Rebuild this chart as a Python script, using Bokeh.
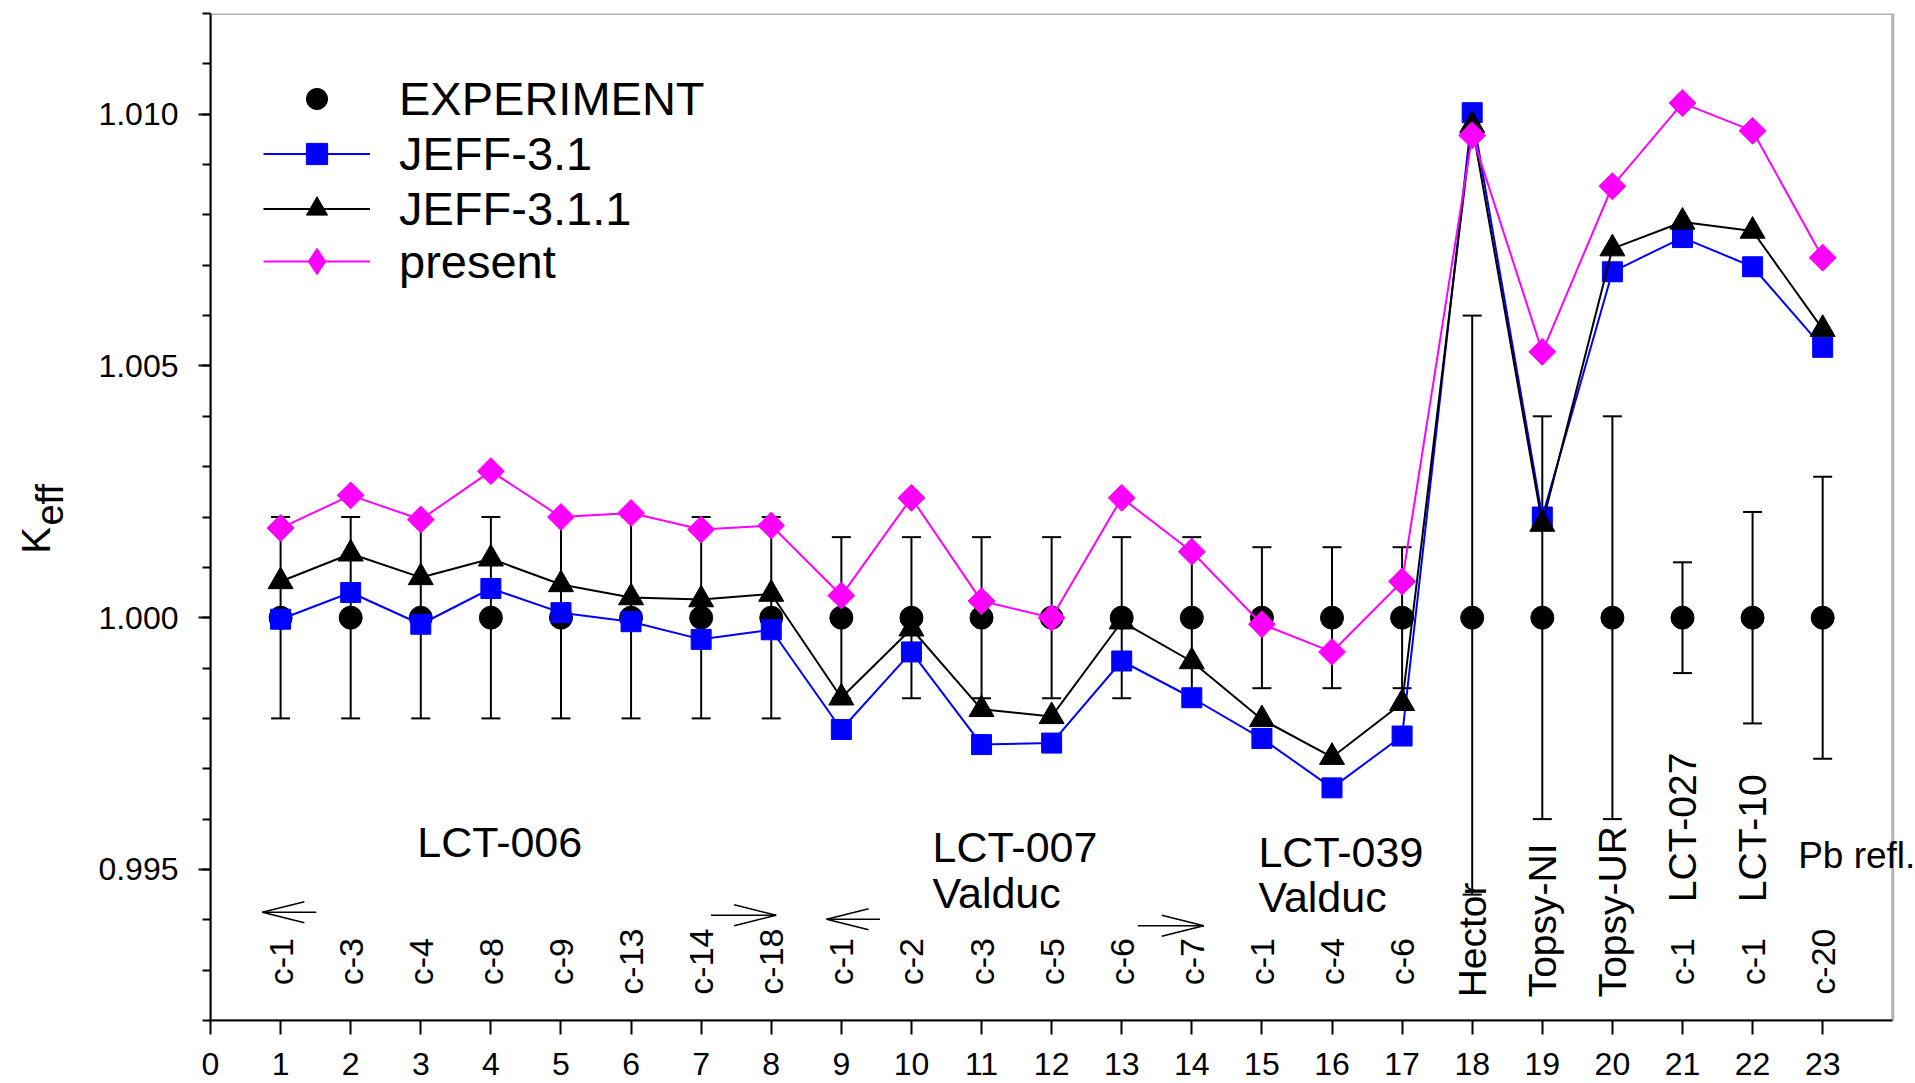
import numpy as np
from bokeh.plotting import figure
from bokeh.layouts import row
from bokeh.models import (ColumnDataSource, Whisker, TeeHead, Label, Arrow, Legend,
                          LegendItem, FixedTicker, NumeralTickFormatter, Range1d, BoxAnnotation)
from bokeh.embed import file_html
from bokeh.resources import INLINE
from bokeh.core.properties import value

# ---------------- data ----------------
cases = [1, 2, 3, 4, 5, 6, 7, 8, 9, 10, 11, 12, 13, 14, 15, 16, 17, 18, 19, 20, 21, 22, 23]
experiment = [1.0] * 23
err_up = [0.002, 0.002, 0.002, 0.002, 0.002, 0.002, 0.002, 0.002,
          0.0016, 0.0016, 0.0016, 0.0016, 0.0016, 0.0016,
          0.0014, 0.0014, 0.0014,
          0.006, 0.004, 0.004, 0.0011, 0.0021, 0.0028]
err_low = [0.002, 0.002, 0.002, 0.002, 0.002, 0.002, 0.002, 0.002,
           0.0016, 0.0016, 0.0016, 0.0016, 0.0016, 0.0016,
           0.0014, 0.0014, 0.0014,
           0.0055, 0.004, 0.004, 0.0011, 0.0021, 0.0028]
jeff31 = [0.99997, 1.00050, 0.99987, 1.00058, 1.00010, 0.99992, 0.99957, 0.99976,
          0.99778, 0.99932, 0.99748, 0.99751, 0.99914, 0.99841,
          0.99760, 0.99662, 0.99765,
          1.01003, 1.00200, 1.00687, 1.00755, 1.00697, 1.00537]
jeff311 = [1.00072, 1.00127, 1.00080, 1.00117, 1.00066, 1.00040, 1.00036, 1.00047,
           0.99841, 0.99978, 0.99818, 0.99804, 0.99992, 0.99913,
           0.99798, 0.99723, 0.99830,
           1.00978, 1.00186, 1.00733, 1.00786, 1.00768, 1.00573]
present = [1.00178, 1.00243, 1.00195, 1.00291, 1.00200, 1.00208, 1.00175, 1.00183,
           1.00044, 1.00238, 1.00033, 1.00000, 1.00238, 1.00131,
           0.99987, 0.99932, 1.00072,
           1.00958, 1.00528, 1.00857, 1.01022, 1.00967, 1.00715]

case_labels = ["c-1", "c-3", "c-4", "c-8", "c-9", "c-13", "c-14", "c-18",
               "c-1", "c-2", "c-3", "c-5", "c-6", "c-7",
               "c-1", "c-4", "c-6", "", "", "", "c-1", "c-1", "c-20"]
bench_x = [18, 19, 20]
bench_labels = ["Hector", "Topsy-NI", "Topsy-UR"]
lct_x = [21, 22]
lct_labels = ["LCT-027", "LCT-10"]
x_ticks = [0, 1, 2, 3, 4, 5, 6, 7, 8, 9, 10, 11, 12, 13, 14, 15, 16, 17, 18, 19, 20, 21, 22, 23]
y_major = [0.995, 1.000, 1.005, 1.010]

FONT = "Liberation Sans"
BLUE = "#0000FF"
MAGENTA = "#FF00FF"
Y0, Y1 = 0.992, 1.012
yr = Range1d(Y0, Y1)

# ---------------- left strip holding the y-axis title ----------------
LW = 90
lf = figure(width=LW, height=1083, x_range=Range1d(0, LW), y_range=yr,
            x_axis_location=None, y_axis_location=None, output_backend="svg",
            toolbar_location=None, min_border_left=0, min_border_right=0,
            min_border_top=13, min_border_bottom=63)
lf.outline_line_color = None
lf.xgrid.visible = False
lf.ygrid.visible = False
lf.text(x=[35], y=[1.00127], text=["K"], angle=np.pi / 2, text_align="left",
        text_baseline="alphabetic", text_font=value(FONT), text_font_size="40px",
        text_color="black")
lf.text(x=[49], y=[1.00183], text=["eff"], angle=np.pi / 2, text_align="left",
        text_baseline="alphabetic", text_font=value(FONT), text_font_size="38px",
        text_color="black")

# ---------------- main plot ----------------
p = figure(width=1915 - LW, height=1083, x_range=Range1d(0, 24.31), y_range=yr,
           output_backend="svg", toolbar_location=None,
           min_border_left=210 - LW, min_border_right=1, min_border_top=13, min_border_bottom=63)
p.xgrid.visible = False
p.ygrid.visible = False
p.outline_line_color = None
p.background_fill_color = "white"
p.border_fill_color = "white"

for ax in (p.xaxis, p.yaxis):
    ax.axis_line_width = 2
    ax.axis_line_color = "black"
    ax.major_tick_line_width = 2
    ax.major_tick_line_color = "black"
    ax.major_tick_in = 0
    ax.major_label_text_font = FONT
    ax.major_label_text_font_size = "32px"
    ax.major_label_text_color = "black"
p.xaxis.ticker = FixedTicker(ticks=x_ticks)
p.xaxis.bounds = (0, 24)
p.xaxis.minor_tick_line_color = None
p.xaxis.major_tick_out = 14
p.xaxis.major_label_standoff = 18
p.xaxis.major_label_text_line_height = 1.0
minor_y = [round(0.992 + 0.001 * i, 3) for i in range(21)]
p.yaxis.ticker = FixedTicker(ticks=y_major, minor_ticks=minor_y)
p.yaxis.formatter = NumeralTickFormatter(format="0.000")
p.yaxis.major_tick_out = 12
p.yaxis.minor_tick_out = 8
p.yaxis.minor_tick_in = 0
p.yaxis.minor_tick_line_width = 2
p.yaxis.minor_tick_line_color = "black"
p.yaxis.major_label_standoff = 20

# plot box (frame border up to x = 24)
p.add_layout(BoxAnnotation(left=0, right=24, bottom=Y0, top=Y1, fill_alpha=0,
                           line_color="black", line_width=3))

# error bars
upper = [e + u for e, u in zip(experiment, err_up)]
lower = [e - l for e, l in zip(experiment, err_low)]
err_src = ColumnDataSource(dict(x=cases, upper=upper, lower=lower))
p.add_layout(Whisker(source=err_src, base="x", upper="upper", lower="lower",
                     dimension="height", line_color="black", line_width=2, level="underlay",
                     upper_head=TeeHead(size=19, line_width=2, line_color="black"),
                     lower_head=TeeHead(size=19, line_width=2, line_color="black")))

src = ColumnDataSource(dict(x=cases, exp=experiment, j31=jeff31, j311=jeff311, pr=present))

r_exp = p.scatter("x", "exp", source=src, marker="circle", size=23, color="black")
l31 = p.line("x", "j31", source=src, line_color=BLUE, line_width=2)
s31 = p.scatter("x", "j31", source=src, marker="square", size=20, color=BLUE)
l311 = p.line("x", "j311", source=src, line_color="black", line_width=2)
s311 = p.scatter("x", "j311", source=src, marker="triangle", size=25, color="black")
lpr = p.line("x", "pr", source=src, line_color=MAGENTA, line_width=2)
dpr = p.scatter("x", "pr", source=src, marker="diamond", size=18, color=MAGENTA)
spr = p.scatter("x", "pr", source=src, marker="square", angle=np.pi / 4, size=19, color=MAGENTA)

common = dict(orientation="vertical", label_text_font=FONT, label_text_font_size="47px",
              label_text_color="black", glyph_width=107, spacing=0, padding=0, margin=0,
              label_standoff=29, border_line_color=None, background_fill_alpha=0)
legend1 = Legend(items=[
    LegendItem(label="EXPERIMENT", renderers=[r_exp]),
    LegendItem(label="JEFF-3.1", renderers=[l31, s31]),
    LegendItem(label="JEFF-3.1.1", renderers=[l311, s311]),
], location=(53, 784), glyph_height=53, label_height=53, **common)
legend2 = Legend(items=[
    LegendItem(label="present", renderers=[lpr, dpr]),
], location=(53, 726), glyph_height=66, label_height=66, **common)
p.add_layout(legend1)
p.add_layout(legend2)

# case labels (rotated)
lab_src = ColumnDataSource(dict(x=cases, y=[0.99317] * 23, t=case_labels))
p.text("x", "y", text="t", source=lab_src, angle=np.pi / 2, text_align="center",
       text_baseline="middle", text_font=value(FONT), text_font_size="34px", text_color="black")
bench_src = ColumnDataSource(dict(x=bench_x, y=[0.99246] * 3, t=bench_labels))
p.text("x", "y", text="t", source=bench_src, angle=np.pi / 2, text_align="left",
       text_baseline="middle", text_font=value(FONT), text_font_size="39px", text_color="black")
lct_src = ColumnDataSource(dict(x=lct_x, y=[0.99435] * 2, t=lct_labels))
p.text("x", "y", text="t", source=lct_src, angle=np.pi / 2, text_align="left",
       text_baseline="middle", text_font=value(FONT), text_font_size="39px", text_color="black")

# group labels
def add_label(x, y, text, size):
    p.add_layout(Label(x=x, y=y, text=text, text_font=FONT, text_font_size=size,
                       text_color="black", text_align="left", text_baseline="alphabetic"))

add_label(2.95, 0.99555, "LCT-006", "43px")
add_label(10.30, 0.99545, "LCT-007", "43px")
add_label(10.30, 0.99454, "Valduc", "43px")
add_label(14.95, 0.99535, "LCT-039", "43px")
add_label(14.95, 0.99446, "Valduc", "43px")
add_label(22.65, 0.99527, "Pb refl.", "37px")

# range arrows (tip, tail, y)
arrow_tip = [0.74, 8.07, 8.79, 14.17]
arrow_tail = [1.51, 7.14, 9.55, 13.23]
arrow_y = [0.99415, 0.99409, 0.99401, 0.99388]
head_dx = 42 / 70.09
head_dy = 10.5 * (Y1 - Y0) / 1007
for tip, tail, y in zip(arrow_tip, arrow_tail, arrow_y):
    d = 1 if tail > tip else -1
    p.add_layout(Arrow(x_start=tail, y_start=y, x_end=tip, y_end=y, end=None, start=None,
                       line_width=1.5, line_color="black"))
    for s in (1, -1):
        p.add_layout(Arrow(x_start=tip, y_start=y, x_end=tip + d * head_dx, y_end=y + s * head_dy,
                           end=None, start=None, line_width=1.5, line_color="black"))

layout = row(lf, p, spacing=0)
open("out.html", "w").write(file_html(layout, INLINE))
